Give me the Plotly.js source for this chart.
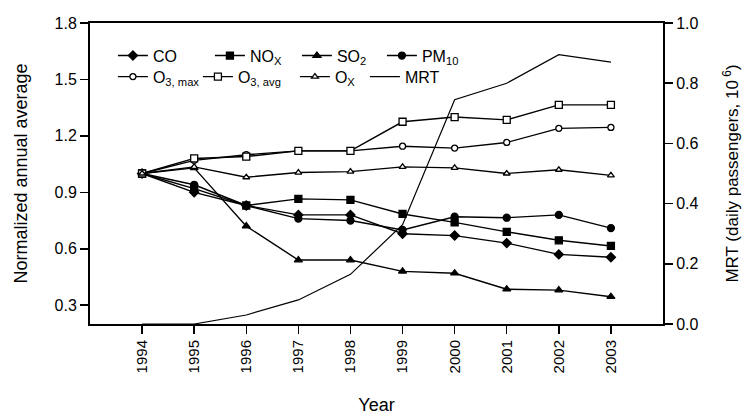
<!DOCTYPE html>
<html>
<head>
<meta charset="utf-8">
<script src="https://cdn.plot.ly/plotly-3.0.1.min.js"></script>
<style>html,body{margin:0;padding:0;background:#fff;}#chart{width:745px;height:417px;}</style>
</head>
<body>
<div id="chart"></div>
<script>
var years = [1994, 1995, 1996, 1997, 1998, 1999, 2000, 2001, 2002, 2003];
var yearLabels = ['1994', '1995', '1996', '1997', '1998', '1999', '2000', '2001', '2002', '2003'];
var CO    = [1.00, 0.90, 0.83, 0.78, 0.78, 0.68, 0.67, 0.63, 0.57, 0.555];
var NOx   = [1.00, 0.92, 0.83, 0.865, 0.86, 0.785, 0.74, 0.69, 0.645, 0.615];
var SO2   = [1.00, 1.03, 0.72, 0.54, 0.54, 0.48, 0.47, 0.385, 0.38, 0.345];
var PM10  = [1.00, 0.94, 0.83, 0.76, 0.75, 0.70, 0.77, 0.765, 0.78, 0.71];
var O3max = [1.00, 1.07, 1.10, 1.12, 1.12, 1.145, 1.135, 1.165, 1.24, 1.245];
var O3avg = [1.00, 1.08, 1.09, 1.12, 1.12, 1.275, 1.30, 1.285, 1.365, 1.365];
var Ox    = [1.00, 1.035, 0.98, 1.005, 1.01, 1.035, 1.03, 1.00, 1.02, 0.99];
var MRT   = [0.00, 0.00, 0.03, 0.08, 0.165, 0.33, 0.745, 0.80, 0.895, 0.87];
var leftTicks = [0.3, 0.6, 0.9, 1.2, 1.5, 1.8];
var rightTicks = [0.0, 0.2, 0.4, 0.6, 0.8, 1.0];

var FONT = 'Liberation Sans, Arial, Helvetica, sans-serif';

function tr(name, y, sym, size, filled, legend, lw) {
  return {
    x: years, y: y, name: name, type: 'scatter', mode: 'lines+markers',
    legend: legend, legendwidth: lw,
    line: {color: '#000', width: 1.4},
    marker: {symbol: sym, size: size, color: filled ? '#000' : '#fff',
             line: {color: '#000', width: 1.3}}
  };
}

var data = [
  tr('CO', CO, 'diamond', 7, true, 'legend', 52),
  tr('NO<sub>X</sub>', NOx, 'square', 7, true, 'legend', 42),
  tr('SO<sub>2</sub>', SO2, 'triangle-up', 7, true, 'legend', 40),
  tr('PM<sub>10</sub>', PM10, 'circle', 7, true, 'legend', 50),
  tr('O<sub>3, max</sub>', O3max, 'circle', 6, false, 'legend2', 40),
  tr('O<sub>3, avg</sub>', O3avg, 'square', 7, false, 'legend2', 52),
  tr('O<sub>X</sub>', Ox, 'triangle-up', 6, false, 'legend2', 25),
  {x: years, y: MRT, name: 'MRT', type: 'scatter', mode: 'lines', yaxis: 'y2',
   legend: 'legend2', legendwidth: 50, line: {color: '#000', width: 1.2}}
];

var legendBase = {
  orientation: 'h', xanchor: 'left', yanchor: 'top',
  bgcolor: 'rgba(0,0,0,0)', borderwidth: 0,
  font: {family: FONT, size: 16, color: '#000'}, itemwidth: 30
};

var layout = {
  width: 745, height: 417,
  margin: {l: 90, r: 82, t: 23, b: 93},
  paper_bgcolor: '#fff', plot_bgcolor: '#fff',
  font: {family: FONT, color: '#000'},
  showlegend: true,
  legend: Object.assign({}, legendBase, {x: 0.04, y: 0.948}),
  legend2: Object.assign({}, legendBase, {x: 0.04, y: 0.878}),
  xaxis: {
    range: [1993, 2004], tickvals: years, ticktext: yearLabels, tickangle: -90,
    ticks: 'outside', ticklen: 8, tickwidth: 1.5, tickcolor: '#000',
    showline: true, linecolor: '#000', linewidth: 2, mirror: true,
    showgrid: false, zeroline: false,
    tickfont: {family: FONT, size: 15, color: '#000'},
    title: {text: 'Year', font: {family: FONT, size: 18, color: '#000'}, standoff: 26}
  },
  yaxis: {
    range: [0.2, 1.8], tickvals: leftTicks, tickformat: '.1f',
    ticks: 'outside', ticklen: 8, tickwidth: 1.5, tickcolor: '#000',
    showline: true, linecolor: '#000', linewidth: 2,
    showgrid: false, zeroline: false,
    tickfont: {family: FONT, size: 16, color: '#000'},
    title: {text: 'Normalized annual average', font: {family: FONT, size: 18, color: '#000'}, standoff: 22}
  },
  yaxis2: {
    range: [0, 1.0], tickvals: rightTicks, tickformat: '.1f',
    overlaying: 'y', side: 'right',
    ticks: 'outside', ticklen: 8, tickwidth: 1.5, tickcolor: '#000',
    showline: true, linecolor: '#000', linewidth: 2,
    showgrid: false, zeroline: false,
    tickfont: {family: FONT, size: 16, color: '#000'},
    title: {text: 'MRT (daily passengers, 10<sup> 6</sup>)', font: {family: FONT, size: 17, color: '#000'}, standoff: 29}
  }
};

Plotly.newPlot('chart', data, layout, {displayModeBar: false, staticPlot: true});
</script>
</body>
</html>
